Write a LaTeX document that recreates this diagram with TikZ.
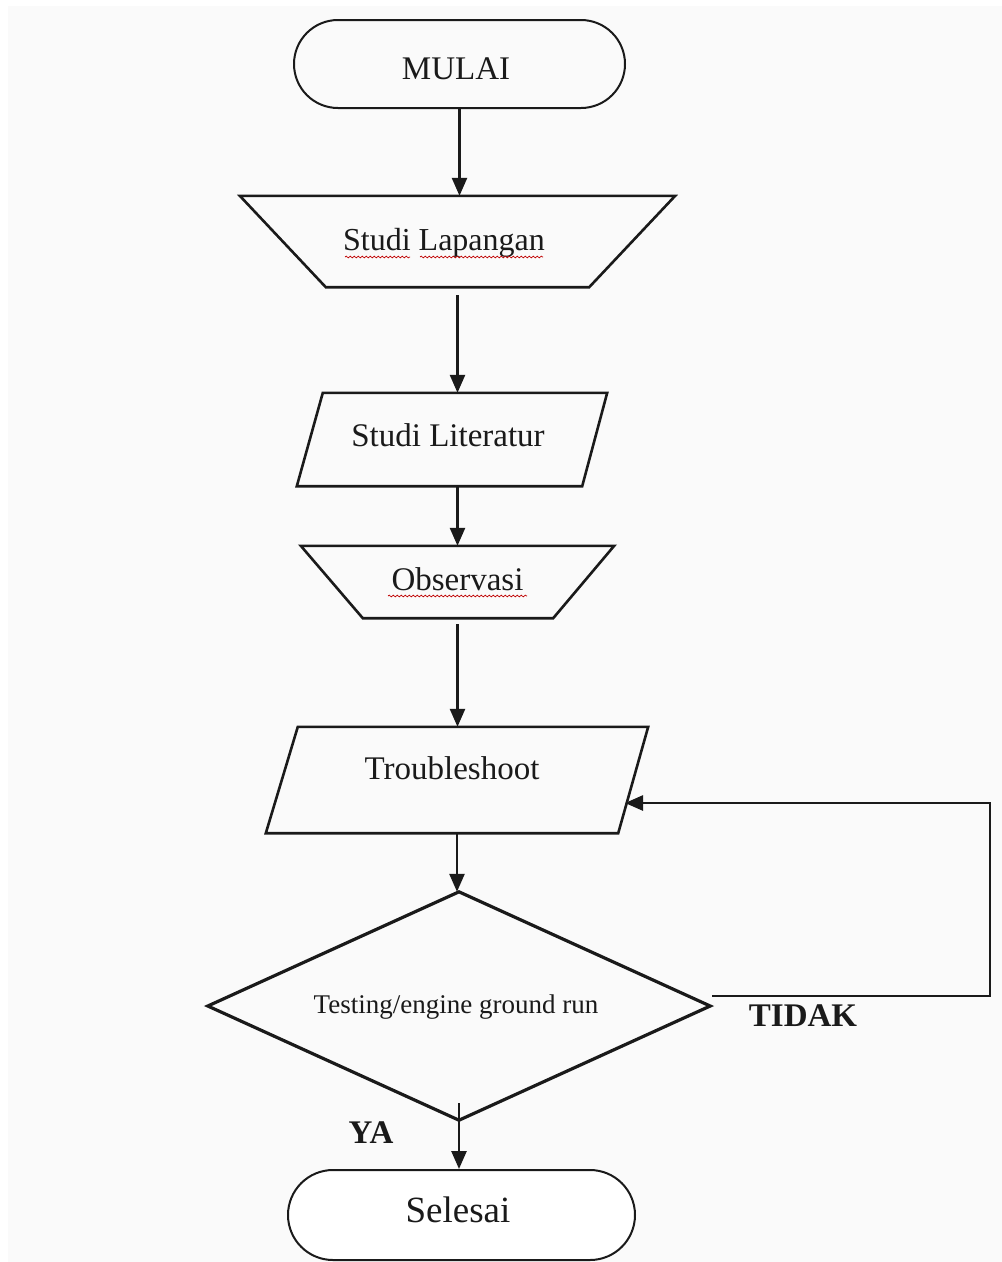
\documentclass[tikz,border=0pt]{standalone}
\usepackage{fontspec}
\setmainfont{Liberation Serif}
\usetikzlibrary{arrows.meta,decorations.pathmorphing}
\definecolor{bgc}{HTML}{FAFAFA}
\definecolor{ink}{HTML}{1A1A1A}
\begin{document}
\begin{tikzpicture}[x=1pt,y=-1pt,
  box/.style 2 args={inner sep=0pt,minimum width=#1,minimum height=#2},
  shp/.style={draw=ink,line width=2.6pt,line join=miter},
  dia/.style={draw=ink,line width=3.2pt,line join=miter},
  term/.style={draw=ink,line width=2pt,rounded corners=44pt,inner sep=0pt},
  lbl/.style={text=ink,font=\fontsize{33}{40}\selectfont,inner sep=0pt,anchor=base},
  arr/.style={draw=ink,line width=2.6pt,-{Triangle[length=18pt,width=15pt]}},
  squig/.style={draw=red!75!black,line width=0.7pt,decorate,decoration={snake,segment length=4pt,amplitude=0.9pt}}
]
\useasboundingbox (0,0) rectangle (1002,1262);
\fill[white] (0,0) rectangle (1002,1262);
\fill[bgc] (8,6) rectangle (1002,1262);

% MULAI
\node[term,minimum width=331pt,minimum height=88pt] (mulai) at (459.5,64) {};
\node[lbl] (tmulai) at (456,79) {MULAI};

% Studi Lapangan
\node[box={435pt}{91pt}] (lap) at (457.5,241.5) {};
\draw[shp] (lap.north west) -- (lap.north east) -- ([xshift=-86pt]lap.south east) -- ([xshift=86pt]lap.south west) -- cycle;
\node[lbl,font=\fontsize{32}{38}\selectfont] (tlap) at (444,250) {Studi Lapangan};
\draw[squig] (345,257) -- (410,257);
\draw[squig] (420,257) -- (543,257);

% Studi Literatur
\node[box={310pt}{93pt}] (lit) at (452,439.5) {};
\draw[shp] (lit.south west) -- ([xshift=-25pt]lit.south east) -- (lit.north east) -- ([xshift=26pt]lit.north west) -- cycle;
\node[lbl] (tlit) at (448,446) {Studi Literatur};

% Observasi
\node[box={313pt}{72pt}] (obs) at (457.5,582) {};
\draw[shp] (obs.north west) -- (obs.north east) -- ([xshift=-61pt]obs.south east) -- ([xshift=62pt]obs.south west) -- cycle;
\node[lbl] (tobs) at (457.5,590) {Observasi};
\draw[squig] (388,596) -- (527,596);

% Troubleshoot
\node[box={382pt}{106pt}] (trb) at (457,780) {};
\draw[shp] (trb.south west) -- ([xshift=-30pt]trb.south east) -- (trb.north east) -- ([xshift=32pt]trb.north west) -- cycle;
\node[lbl] (ttrb) at (452,779) {Troubleshoot};

% Decision
\node[box={502pt}{228pt}] (dec) at (459,1006) {};
\draw[dia] (dec.north) -- (dec.east) -- (dec.south) -- (dec.west) -- cycle;
\node[lbl,font=\fontsize{27}{32}\selectfont] (tdec) at (456,1013) {Testing/engine ground run};

% Selesai
\node[term,fill=white,minimum width=347pt,minimum height=90pt,rounded corners=45pt] (sel) at (461.5,1215) {};
\node[lbl,font=\fontsize{37}{44}\selectfont] (tsel) at (458,1222) {Selesai};

% labels
\node[lbl,font=\bfseries\fontsize{33}{40}\selectfont] (tidak) at (803,1026) {TIDAK};
\node[lbl,font=\bfseries\fontsize{33}{40}\selectfont] (ya) at (371,1143) {YA};

% connectors
\draw[arr] (mulai.south) -- (mulai.south |- lap.north);
\draw[arr,shorten <=8pt] (lap.south) -- (lap.south |- lit.north);
\draw[arr] (obs.north |- lit.south) -- (obs.north);
\draw[arr,shorten <=6pt] (obs.south) -- (obs.south |- trb.north);
\draw[arr] (trb.south) -- (trb.south |- dec.north);
\draw[arr] ([yshift=17pt]dec.south) -- (dec.south |- sel.north);

\coordinate (turn) at (990,803);
\coordinate (back) at (625,803);
\draw[arr] ([shift={(2pt,10pt)}]dec.east) -| (turn) -- (back);
\end{tikzpicture}
\end{document}
